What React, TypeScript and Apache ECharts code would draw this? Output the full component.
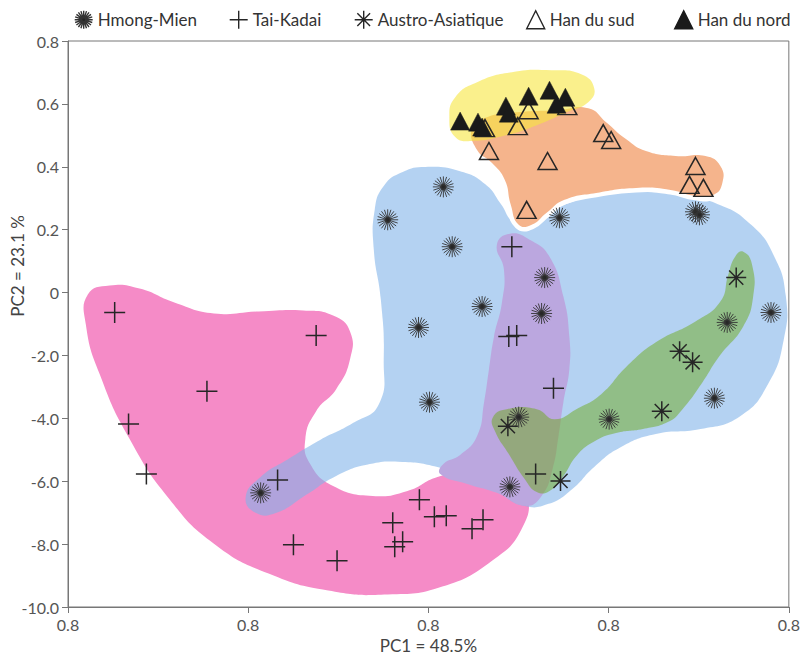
import React, { useEffect, useRef } from "react";
import * as echarts from "echarts";

// ---- axes ----
const X_TICK_LABELS = ["0.8", "0.8", "0.8", "0.8", "0.8"];
const Y_TICK_LABELS = ["-10.0", "-8.0", "-6.0", "-4.0", "-2.0", "0", "0.2", "0.4", "0.6", "0.8"];
const X_MIN = 0;
const X_MAX = 4;
const Y_MIN = -5;
const Y_MAX = 4;

// ---- series (position on the tick index scale) ----
const hmongMien = [
  [2.083, 1.68], [1.774, 1.157], [2.132, 0.729], [2.727, 1.189], [3.482, 1.284], [3.504, 1.236],
  [2.645, 0.238], [2.628, -0.333], [2.298, -0.222], [1.945, -0.555], [3.901, -0.317], [3.658, -0.475],
  [2.006, -1.743], [2.501, -1.981], [3.003, -2.013], [3.587, -1.68], [2.452, -3.09], [1.069, -3.185],
];
const taiKadai = [
  [0.259, -0.317], [1.377, -0.681], [0.771, -1.569], [0.336, -2.092], [0.435, -2.884], [1.163, -2.979],
  [1.251, -4.01], [1.493, -4.263], [1.95, -3.296], [1.802, -3.661], [2.033, -3.566], [2.099, -3.55],
  [2.242, -3.756], [2.303, -3.613], [1.813, -4.041], [1.857, -3.962], [2.463, 0.729], [2.446, -0.697],
  [2.49, -0.681], [2.694, -1.521], [2.595, -2.884],
];
const austroAsiatique = [
  [3.708, 0.238], [3.394, -0.935], [3.466, -1.109], [3.295, -1.886], [2.441, -2.124], [2.733, -2.995],
];
const hanSud = [
  [2.314, 2.615], [2.496, 2.647], [2.556, 2.9], [2.771, 2.964], [2.336, 2.25], [2.661, 2.092],
  [2.97, 2.536], [3.014, 2.425], [3.482, 2.013], [3.449, 1.712], [3.526, 1.664], [2.545, 1.315],
];
const hanNord = [
  [2.176, 2.726], [2.275, 2.71], [2.298, 2.631], [2.43, 2.964], [2.446, 2.853], [2.556, 3.122],
  [2.672, 3.217], [2.76, 3.106], [2.711, 2.995],
];

// ---- group outlines (same data scale) ----
const blobPink = [
  [0.11, -0.032], [0.231, 0.111], [0.397, 0.063], [0.59, -0.158], [0.81, -0.333], [1.058, -0.301],
  [1.306, -0.285], [1.471, -0.365], [1.565, -0.618], [1.565, -1.062], [1.488, -1.537], [1.377, -1.886],
  [1.317, -2.33], [1.344, -2.726], [1.471, -3.074], [1.691, -3.233], [1.884, -3.154], [2.05, -2.932],
  [2.27, -2.805], [2.435, -2.884], [2.545, -3.201], [2.518, -3.756], [2.353, -4.263], [2.077, -4.675],
  [1.774, -4.802], [1.444, -4.739], [1.113, -4.469], [0.81, -3.994], [0.562, -3.281], [0.342, -2.33],
  [0.176, -1.3], [0.099, -0.507],
];
const blobBlue = [
  [1.702, 1.315], [1.752, 1.696], [1.857, 1.918], [1.983, 1.997], [2.171, 1.933], [2.314, 1.727], [2.402, 1.41],
  [2.468, 1.125], [2.551, 1.03], [2.634, 1.204], [2.755, 1.395], [2.986, 1.585], [3.317, 1.601],
  [3.603, 1.41], [3.791, 1.078], [3.917, 0.586], [3.983, -0.048], [3.972, -0.745], [3.884, -1.458],
  [3.73, -1.965], [3.51, -2.171], [3.262, -2.25], [3.069, -2.456], [2.92, -2.773], [2.799, -3.122],
  [2.667, -3.36], [2.529, -3.391], [2.38, -3.17], [2.215, -2.932], [2.05, -2.773], [1.857, -2.694],
  [1.675, -2.726], [1.488, -2.916], [1.322, -3.217], [1.157, -3.502], [1.041, -3.502], [0.986, -3.249],
  [1.069, -2.932], [1.223, -2.647], [1.399, -2.345], [1.581, -2.076], [1.725, -1.775], [1.752, -1.062],
  [1.736, -0.111], [1.697, 0.681],
];
const blobPurple = [
  [2.452, 0.935], [2.562, 0.84], [2.672, 0.571], [2.749, -0.063], [2.782, -0.697], [2.782, -1.22],
  [2.749, -1.743], [2.722, -2.282], [2.689, -2.805], [2.628, -3.233], [2.534, -3.391], [2.38, -3.185],
  [2.215, -3.043], [2.066, -2.884], [2.083, -2.726], [2.176, -2.583], [2.27, -2.282], [2.309, -1.743],
  [2.336, -1.22], [2.364, -0.697], [2.408, -0.158], [2.419, 0.365], [2.38, 0.761],
];
const blobGreen = [
  [3.747, 0.65], [3.796, 0.444], [3.802, -0.063], [3.747, -0.539], [3.614, -1.014], [3.521, -1.426],
  [3.41, -1.854], [3.328, -2.06], [3.19, -2.171], [3.041, -2.235], [2.915, -2.377], [2.821, -2.599],
  [2.749, -2.916], [2.672, -3.154], [2.601, -3.17], [2.534, -2.964], [2.446, -2.567], [2.369, -2.203],
  [2.358, -1.981], [2.435, -1.854], [2.601, -1.854], [2.7, -2.013], [2.821, -1.854], [2.959, -1.616],
  [3.096, -1.189], [3.262, -0.792], [3.482, -0.46], [3.62, -0.143], [3.664, 0.285], [3.702, 0.571],
];
const blobOrange = [
  [2.242, 2.615], [2.325, 2.789], [2.49, 2.868], [2.711, 2.9], [2.887, 2.932], [2.986, 2.71],
  [3.096, 2.441], [3.207, 2.25], [3.372, 2.171], [3.537, 2.171], [3.62, 2.013], [3.631, 1.743],
  [3.581, 1.553], [3.482, 1.537], [3.344, 1.632], [3.152, 1.664], [2.931, 1.585], [2.755, 1.474],
  [2.656, 1.268], [2.573, 1.078], [2.501, 1.078], [2.457, 1.395], [2.424, 1.791], [2.353, 2.06],
  [2.27, 2.266],
];
const blobYellow = [
  [2.116, 2.773], [2.149, 3.106], [2.27, 3.344], [2.463, 3.502], [2.683, 3.534], [2.848, 3.471],
  [2.92, 3.249], [2.887, 3.027], [2.766, 2.868], [2.601, 2.662], [2.435, 2.504], [2.242, 2.409],
  [2.149, 2.472],
];

// ---- marker glyphs ----
function starburstSymbol(): string {
  let d = "";
  const n = 20;
  for (let i = 0; i < n; i++) {
    const a = (i * 2 * Math.PI) / n;
    d += `M${(1.5 * Math.cos(a)).toFixed(2)},${(1.5 * Math.sin(a)).toFixed(2)}L${(10 * Math.cos(a)).toFixed(2)},${(10 * Math.sin(a)).toFixed(2)}`;
  }
  const m = 14;
  for (let j = 0; j < m; j++) {
    const a = (j * 2 * Math.PI) / m;
    d += `${j === 0 ? "M" : "L"}${(2.6 * Math.cos(a)).toFixed(2)},${(2.6 * Math.sin(a)).toFixed(2)}`;
  }
  d += "Z";
  return "path://" + d;
}
const PLUS = "path://M0,-10L0,10M-10,0L10,0";
const ASTERISK = "path://M0,-10L0,10M-10,0L10,0M-7.07,-7.07L7.07,7.07M-7.07,7.07L7.07,-7.07";

const FONT = "Lato, 'Open Sans', sans-serif";
const INK = "#262626";

function blob(points: number[][], fill: string, z: number, halo = false) {
  return {
    type: "custom",
    coordinateSystem: "cartesian2d",
    silent: true,
    z,
    data: [[0, 0]],
    renderItem: (_p: any, api: any) => {
      const pts = points.map((p) => api.coord(p));
      const body = { type: "polygon", shape: { points: pts, smooth: 0.5 }, style: { fill } };
      if (!halo) return body;
      return {
        type: "group",
        children: [
          { type: "polygon", shape: { points: pts, smooth: 0.5 }, style: { fill: "#fff", stroke: "#fff", lineWidth: 9 } },
          body,
        ],
      };
    },
  };
}

function legendFor(name: string, left: number) {
  return {
    data: [name],
    left,
    top: 10,
    padding: 0,
    itemWidth: 18,
    itemHeight: 18,
    selectedMode: false,
    itemStyle: { borderWidth: 1.4 },
    textStyle: { fontFamily: FONT, fontSize: 17, color: "#333" },
  };
}

export default function App() {
  const ref = useRef<HTMLDivElement>(null);
  useEffect(() => {
    if (!ref.current) return;
    const chart = echarts.init(ref.current, null, { renderer: "svg" });
    const axisCommon = {
      axisLine: { show: true, onZero: false, lineStyle: { color: "#777", width: 1 } },
      axisTick: { show: true, inside: false, length: 6, lineStyle: { color: "#777" } },
      splitLine: { show: false },
      axisLabel: { fontFamily: FONT, fontSize: 16, color: "#555", margin: 9 },
    };
    chart.setOption({
      animation: false,
      backgroundColor: "#fff",
      grid: { left: 68, right: 8, top: 41, bottom: 50, show: true, borderColor: "#777", borderWidth: 1 },
      xAxis: {
        type: "value",
        min: X_MIN,
        max: X_MAX,
        interval: 1,
        ...axisCommon,
        axisLabel: { ...axisCommon.axisLabel, formatter: (v: number) => X_TICK_LABELS[Math.round(v - X_MIN)] ?? "" },
        name: "PC1 = 48.5%",
        nameLocation: "middle",
        nameGap: 30,
        nameTextStyle: { fontFamily: FONT, fontSize: 17, color: "#444" },
      },
      yAxis: {
        type: "value",
        min: Y_MIN,
        max: Y_MAX,
        interval: 1,
        ...axisCommon,
        axisLabel: { ...axisCommon.axisLabel, formatter: (v: number) => Y_TICK_LABELS[Math.round(v - Y_MIN)] ?? "" },
      },
      graphic: [
        {
          type: "text",
          x: 17,
          y: 266,
          rotation: Math.PI / 2,
          style: { text: "PC2 = 23.1 %", font: `17px ${FONT}`, fill: "#444", align: "center", verticalAlign: "middle" },
        },
      ],
      legend: [
        legendFor("Hmong-Mien", 74),
        legendFor("Tai-Kadai", 229),
        legendFor("Austro-Asiatique", 354),
        legendFor("Han du sud", 526),
        legendFor("Han du nord", 674),
      ],
      series: [
        blob(blobPink, "#f58bc7", 1),
        blob(blobBlue, "rgba(130,180,233,0.6)", 2),
        blob(blobPurple, "#bba7df", 3),
        blob(blobGreen, "rgba(110,170,28,0.5)", 4),
        blob(blobOrange, "#f5b48c", 5, true),
        blob(blobYellow, "rgba(247,230,63,0.6)", 6),
        {
          name: "Hmong-Mien",
          type: "scatter",
          z: 10,
          symbol: starburstSymbol(),
          symbolSize: 21,
          data: hmongMien,
          itemStyle: { color: INK, borderColor: "#333", borderWidth: 0.9, opacity: 1 },
        },
        {
          name: "Tai-Kadai",
          type: "scatter",
          z: 10,
          symbol: PLUS,
          symbolSize: 21,
          data: taiKadai,
          itemStyle: { color: "rgba(0,0,0,0)", borderColor: INK, borderWidth: 1.5, opacity: 1 },
        },
        {
          name: "Austro-Asiatique",
          type: "scatter",
          z: 10,
          symbol: ASTERISK,
          symbolSize: 20,
          data: austroAsiatique,
          itemStyle: { color: "rgba(0,0,0,0)", borderColor: INK, borderWidth: 1.5, opacity: 1 },
        },
        {
          name: "Han du sud",
          type: "scatter",
          z: 10,
          symbol: "triangle",
          symbolSize: [19, 17],
          data: hanSud,
          itemStyle: { color: "rgba(0,0,0,0)", borderColor: INK, borderWidth: 1.5, opacity: 1 },
        },
        {
          name: "Han du nord",
          type: "scatter",
          z: 11,
          symbol: "triangle",
          symbolSize: [19, 18],
          data: hanNord,
          itemStyle: { color: "#1a1a1a", borderColor: "#1a1a1a", borderWidth: 0.5, opacity: 1 },
        },
      ],
    });
    return () => chart.dispose();
  }, []);
  return <div ref={ref} style={{ position: "absolute", left: 0, top: 0, width: 803, height: 659, background: "#fff" }} />;
}
